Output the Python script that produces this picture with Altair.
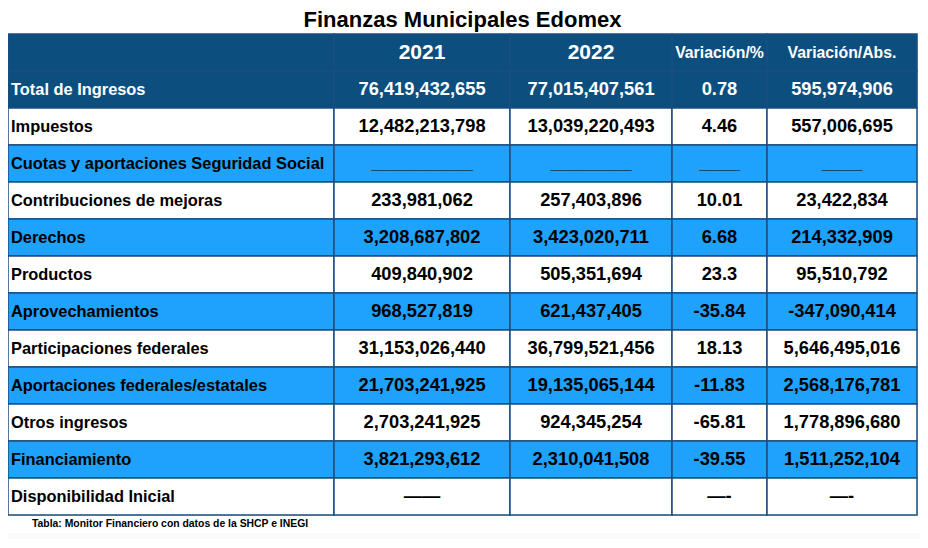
import altair as alt
import pandas as pd

# ---- data ----
headers = ["", "2021", "2022", "Variación/%", "Variación/Abs."]
labels = ["Total de Ingresos", "Impuestos", "Cuotas y aportaciones Seguridad Social",
          "Contribuciones de mejoras", "Derechos", "Productos", "Aprovechamientos",
          "Participaciones federales", "Aportaciones federales/estatales",
          "Otros ingresos", "Financiamiento", "Disponibilidad Inicial"]
v2021 = ["76,419,432,655", "12,482,213,798", "__________", "233,981,062", "3,208,687,802",
         "409,840,902", "968,527,819", "31,153,026,440", "21,703,241,925",
         "2,703,241,925", "3,821,293,612", "——"]
v2022 = ["77,015,407,561", "13,039,220,493", "________", "257,403,896", "3,423,020,711",
         "505,351,694", "621,437,405", "36,799,521,456", "19,135,065,144",
         "924,345,254", "2,310,041,508", ""]
var_pct = ["0.78", "4.46", "____", "10.01", "6.68", "23.3", "-35.84", "18.13",
           "-11.83", "-65.81", "-39.55", "—-"]
var_abs = ["595,974,906", "557,006,695", "____", "23,422,834", "214,332,909",
           "95,510,792", "-347,090,414", "5,646,495,016", "2,568,176,781",
           "1,778,896,680", "1,511,252,104", "—-"]
title_text = "Finanzas Municipales Edomex"
source_text = "Tabla: Monitor Financiero con datos de la SHCP e INEGI"

# ---- style ----
col_widths = [326, 176, 162, 95, 150]
DARK = "#0c4f7e"
LIGHT = "#1ea2fb"
WHITE = "#ffffff"
LINE = "#1b4e80"
FONT = "Liberation Sans"
ROW_H = 37

edges = [0]
for w in col_widths:
    edges.append(edges[-1] + w)

rows = [headers] + [[labels[i], v2021[i], v2022[i], var_pct[i], var_abs[i]] for i in range(len(labels))]

recs = []
for r, row in enumerate(rows):
    if r <= 1:
        fill, tc = DARK, "#ffffff"
    elif r % 2 == 1:
        fill, tc = LIGHT, "#000000"
    else:
        fill, tc = WHITE, "#000000"
    for c, txt in enumerate(row):
        if r == 0:
            fs = 21 if c in (1, 2) else 15.8
        elif c == 0:
            fs = 16.4
        else:
            fs = 18.3
        recs.append(dict(row=r, col=c, x0=edges[c], x1=edges[c + 1],
                         xc=(edges[c] + edges[c + 1]) / 2, xl=edges[c] + 3,
                         fill=fill, tc=tc, text=txt, fs=fs))
df = pd.DataFrame(recs)

yenc = alt.Y("row:O", axis=None,
             scale=alt.Scale(paddingInner=0, paddingOuter=0),
             sort=list(range(len(rows))))

base = alt.Chart(df)

cells = base.mark_rect(stroke=LINE, strokeWidth=1.5).encode(
    x=alt.X("x0:Q", axis=None, scale=alt.Scale(domain=[0, edges[-1]], nice=False, zero=False)),
    x2="x1:Q",
    y=yenc,
    fill=alt.Fill("fill:N", scale=None),
)

text_left = base.transform_filter("datum.col == 0").mark_text(
    align="left", baseline="middle", font=FONT, fontWeight="bold"
).encode(
    x="xl:Q", y=yenc,
    text="text:N",
    color=alt.Color("tc:N", scale=None),
    size=alt.Size("fs:Q", scale=None),
)

text_center = base.transform_filter("datum.col > 0").mark_text(
    align="center", baseline="middle", font=FONT, fontWeight="bold"
).encode(
    x="xc:Q", y=yenc,
    text="text:N",
    color=alt.Color("tc:N", scale=None),
    size=alt.Size("fs:Q", scale=None),
)

title = alt.Chart(pd.DataFrame({"t": [title_text]})).mark_text(
    align="center", baseline="alphabetic", font=FONT, fontWeight="bold", fontSize=22, color="#000000"
).encode(text="t:N", x=alt.value(edges[-1] / 2), y=alt.value(-7))

source = alt.Chart(pd.DataFrame({"t": [source_text]})).mark_text(
    align="left", baseline="middle", font=FONT, fontWeight="bold", fontSize=10.4, color="#000000"
).encode(text="t:N", x=alt.value(24), y=alt.value(ROW_H * len(rows) + 9))

band = alt.Chart(pd.DataFrame({"a": [0]})).mark_rect(color="#fafafa").encode(
    x=alt.value(-8), x2=alt.value(930),
    y=alt.value(ROW_H * len(rows) + 18), y2=alt.value(ROW_H * len(rows) + 40),
)

chart = alt.layer(band, cells, text_left, text_center, title, source).properties(
    width=edges[-1], height=ROW_H * len(rows),
    autosize=alt.AutoSizeParams(type="none"),
    padding={"left": 0, "top": 26, "right": 3, "bottom": 24},
).configure_view(stroke=None).configure(background="#ffffff")

chart.save("out.html", embed_options={"renderer": "svg", "actions": False})
